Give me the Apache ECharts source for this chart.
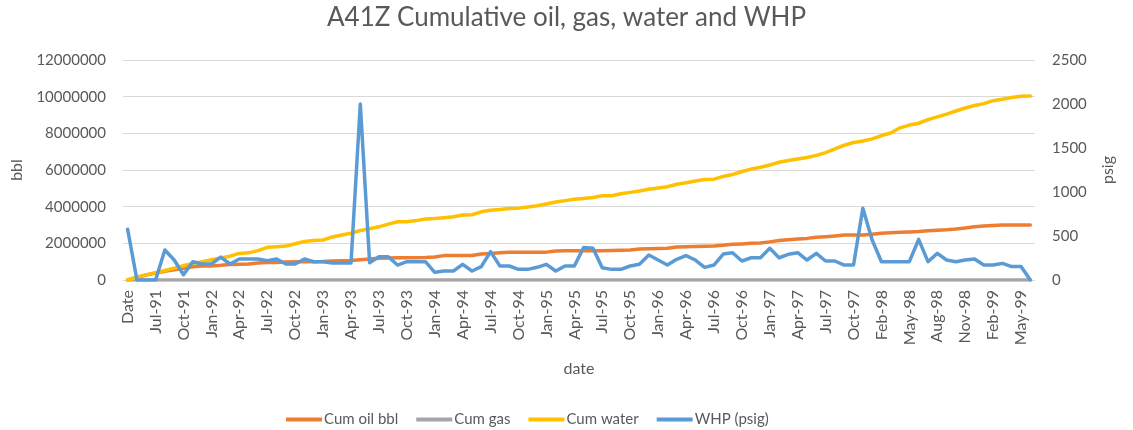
<!DOCTYPE html>
<html>
<head>
<meta charset="utf-8">
<title>A41Z Cumulative oil, gas, water and WHP</title>
<script src="https://cdn.jsdelivr.net/npm/echarts@6/dist/echarts.min.js"></script>
<style>
  html, body { margin: 0; padding: 0; background: #ffffff; }
  #chart { width: 1133px; height: 430px; }
</style>
</head>
<body>
<div id="chart"></div>
<script>
// Monthly production record for well A41Z (first row is the sheet header)
const dates = [
  'Date',
  'May-91','Jun-91','Jul-91','Aug-91','Sep-91','Oct-91','Nov-91','Dec-91',
  'Jan-92','Feb-92','Mar-92','Apr-92','May-92','Jun-92','Jul-92','Aug-92','Sep-92','Oct-92','Nov-92','Dec-92',
  'Jan-93','Feb-93','Mar-93','Apr-93','May-93','Jun-93','Jul-93','Aug-93','Sep-93','Oct-93','Nov-93','Dec-93',
  'Jan-94','Feb-94','Mar-94','Apr-94','May-94','Jun-94','Jul-94','Aug-94','Sep-94','Oct-94','Nov-94','Dec-94',
  'Jan-95','Feb-95','Mar-95','Apr-95','May-95','Jun-95','Jul-95','Aug-95','Sep-95','Oct-95','Nov-95','Dec-95',
  'Jan-96','Feb-96','Mar-96','Apr-96','May-96','Jun-96','Jul-96','Aug-96','Sep-96','Oct-96','Nov-96','Dec-96',
  'Jan-97','Feb-97','Mar-97','Apr-97','May-97','Jun-97','Jul-97','Aug-97','Sep-97','Oct-97','Nov-97','Dec-97',
  'Feb-98','Mar-98','Apr-98','May-98','Jun-98','Jul-98','Aug-98','Sep-98','Oct-98','Nov-98','Dec-98',
  'Jan-99','Feb-99','Mar-99','Apr-99','May-99','Jun-99'
];

// Cumulative oil, bbl
const cumOil = [
  0, 150000, 270000, 380000, 480000, 560000, 640000, 720000, 760000,
  770000, 800000, 850000, 860000, 870000, 930000, 950000, 960000, 980000, 1000000, 1000000, 1000000,
  1010000, 1040000, 1050000, 1060000, 1100000, 1150000, 1180000, 1200000, 1220000, 1220000, 1220000, 1230000,
  1260000, 1330000, 1330000, 1330000, 1340000, 1420000, 1450000, 1480000, 1510000, 1510000, 1510000, 1510000,
  1520000, 1580000, 1600000, 1600000, 1600000, 1600000, 1600000, 1610000, 1620000, 1640000, 1690000, 1700000,
  1720000, 1730000, 1800000, 1820000, 1830000, 1840000, 1850000, 1900000, 1950000, 1970000, 2000000, 2020000,
  2080000, 2150000, 2200000, 2240000, 2270000, 2330000, 2360000, 2400000, 2450000, 2450000, 2460000, 2500000,
  2550000, 2580000, 2600000, 2620000, 2640000, 2680000, 2720000, 2740000, 2780000, 2840000, 2900000,
  2940000, 2970000, 3000000, 3000000, 3000000, 3000000
];

// Cumulative gas (no gas recorded)
const cumGas = [
  0, 0, 0, 0, 0, 0, 0, 0, 0,
  0, 0, 0, 0, 0, 0, 0, 0, 0, 0, 0, 0,
  0, 0, 0, 0, 0, 0, 0, 0, 0, 0, 0, 0,
  0, 0, 0, 0, 0, 0, 0, 0, 0, 0, 0, 0,
  0, 0, 0, 0, 0, 0, 0, 0, 0, 0, 0, 0,
  0, 0, 0, 0, 0, 0, 0, 0, 0, 0, 0, 0,
  0, 0, 0, 0, 0, 0, 0, 0, 0, 0, 0, 0,
  0, 0, 0, 0, 0, 0, 0, 0, 0, 0, 0,
  0, 0, 0, 0, 0, 0
];

// Cumulative water, bbl
const cumWater = [
  0, 150000, 280000, 400000, 520000, 650000, 780000, 900000, 1000000,
  1100000, 1200000, 1300000, 1450000, 1480000, 1600000, 1780000, 1820000, 1850000, 1980000, 2100000, 2150000,
  2180000, 2350000, 2450000, 2550000, 2700000, 2800000, 2900000, 3050000, 3180000, 3180000, 3240000, 3330000,
  3350000, 3400000, 3450000, 3550000, 3560000, 3720000, 3800000, 3840000, 3900000, 3920000, 3980000, 4050000,
  4150000, 4250000, 4330000, 4400000, 4450000, 4500000, 4600000, 4600000, 4700000, 4780000, 4860000, 4950000,
  5020000, 5090000, 5220000, 5300000, 5400000, 5480000, 5500000, 5650000, 5750000, 5920000, 6050000, 6150000,
  6270000, 6420000, 6520000, 6600000, 6680000, 6800000, 6950000, 7150000, 7350000, 7500000, 7580000, 7700000,
  7880000, 8020000, 8300000, 8450000, 8550000, 8750000, 8900000, 9050000, 9220000, 9380000, 9520000,
  9620000, 9780000, 9860000, 9950000, 10020000, 10030000
];

// Wellhead pressure, psig
const whp = [
  576, 0, 0, 0, 341, 227, 60, 208, 182,
  182, 261, 182, 239, 239, 239, 220, 239, 182, 182, 239, 208,
  208, 193, 193, 193, 2000, 197, 265, 265, 170, 208, 208, 208,
  87, 102, 102, 178, 102, 152, 322, 159, 159, 121, 121, 144,
  178, 102, 159, 159, 370, 360, 140, 121, 121, 159, 178, 284,
  227, 170, 235, 276, 227, 144, 170, 295, 310, 216, 253, 253,
  360, 253, 292, 310, 227, 303, 216, 216, 170, 170, 815, 454,
  208, 208, 208, 208, 462, 208, 303, 227, 208, 227, 239,
  170, 170, 189, 152, 152, 0
];

const FONT = 'Lato, "Open Sans", sans-serif';
const TEXT = '#595959';

// Plain integers on the value axes, no thousands separators
const plainNumber = v => String(v);

const chart = echarts.init(document.getElementById('chart'), null, { renderer: 'canvas' });

function lineSeries(name, data, color, axis, z) {
  return {
    name: name,
    type: 'line',
    yAxisIndex: axis,
    data: data,
    symbol: 'none',
    smooth: false,
    z: z,
    lineStyle: { color: color, width: 3.5, cap: 'round', join: 'round' },
    itemStyle: { color: color },
    emphasis: { disabled: true }
  };
}

chart.setOption({
  animation: false,
  backgroundColor: '#ffffff',
  textStyle: { fontFamily: FONT },
  title: {
    text: 'A41Z Cumulative oil, gas, water and WHP',
    left: 'center',
    top: 0,
    textStyle: { fontFamily: FONT, fontSize: 26, fontWeight: 'normal', color: TEXT }
  },
  legend: {
    top: 412,
    left: 286,
    padding: 0,
    itemWidth: 36,
    itemHeight: 4,
    itemGap: 18,
    icon: 'rect',
    textStyle: { fontFamily: FONT, fontSize: 15, color: TEXT, padding: [0, 0, 0, -3] },
    data: ['Cum oil bbl', 'Cum gas', 'Cum water', 'WHP (psig)']
  },
  grid: { left: 123, right: 98, top: 60, bottom: 150, containLabel: false },
  xAxis: {
    type: 'category',
    data: dates,
    boundaryGap: true,
    name: 'date',
    nameLocation: 'middle',
    nameGap: 81,
    nameTextStyle: { fontFamily: FONT, fontSize: 16, color: TEXT },
    axisLine: { show: true, lineStyle: { color: '#d9d9d9', width: 1 } },
    axisTick: { show: false },
    axisLabel: {
      interval: 2,
      rotate: 90,
      margin: 10,
      fontFamily: FONT,
      fontSize: 16,
      color: TEXT
    },
    splitLine: { show: false }
  },
  yAxis: [
    {
      type: 'value',
      min: 0,
      max: 12000000,
      interval: 2000000,
      name: 'bbl',
      nameLocation: 'middle',
      nameGap: 98,
      nameRotate: 90,
      nameTextStyle: { fontFamily: FONT, fontSize: 16, color: TEXT },
      axisLine: { show: false },
      axisTick: { show: false },
      axisLabel: { margin: 17, fontFamily: FONT, fontSize: 15, color: TEXT, formatter: plainNumber },
      splitLine: { show: true, lineStyle: { color: '#d9d9d9', width: 1 } }
    },
    {
      type: 'value',
      min: 0,
      max: 2500,
      interval: 500,
      name: 'psig',
      nameLocation: 'middle',
      nameGap: 65,
      nameRotate: 90,
      nameTextStyle: { fontFamily: FONT, fontSize: 16, color: TEXT },
      axisLine: { show: false },
      axisTick: { show: false },
      axisLabel: { margin: 17, fontFamily: FONT, fontSize: 15, color: TEXT, formatter: plainNumber },
      splitLine: { show: false }
    }
  ],
  series: [
    lineSeries('Cum oil bbl', cumOil, '#ED7D31', 0, 2),
    lineSeries('Cum gas', cumGas, '#A5A5A5', 0, 3),
    lineSeries('Cum water', cumWater, '#FFC000', 0, 4),
    lineSeries('WHP (psig)', whp, '#5B9BD5', 1, 5)
  ]
});
</script>
</body>
</html>
